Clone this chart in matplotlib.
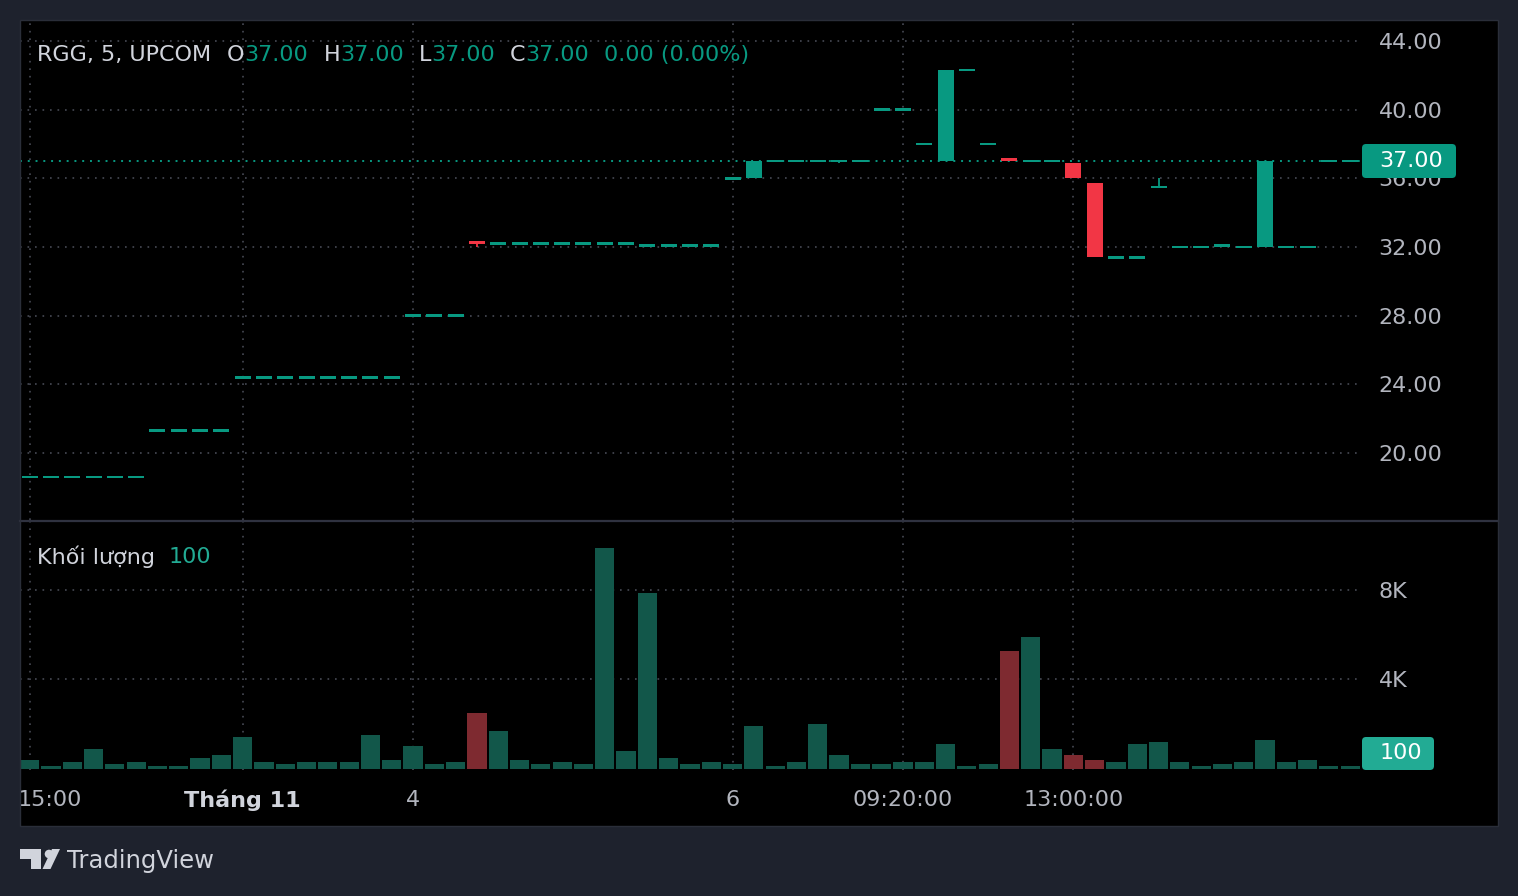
import matplotlib
matplotlib.use('Agg')
import matplotlib.pyplot as plt
from matplotlib.patches import Rectangle, FancyBboxPatch, Polygon, Circle
from matplotlib.transforms import IdentityTransform, blended_transform_factory
import numpy as np

# Dữ liệu nến 5 phút RGG
opens = [18.6, 18.6, 18.6, 18.6, 18.6, 18.6,
         21.3, 21.3, 21.3, 21.3,
         24.4, 24.4, 24.4, 24.4, 24.4, 24.4, 24.4, 24.4,
         28.0, 28.0, 28.0,
         32.3,
         32.2, 32.2, 32.2, 32.2, 32.2, 32.2, 32.2,
         32.1, 32.1, 32.1, 32.1,
         36.0, 36.0,
         37.0, 37.0, 37.0, 37.0, 37.0,
         40.0, 40.0, 38.0, 37.0, 42.3, 38.0, 37.2,
         37.0, 37.0, 36.9, 35.7, 31.4, 31.4, 35.5,
         32.0, 32.0, 32.1, 32.0, 32.0, 32.0, 32.0, 37.0, 37.0]
closes = [18.6, 18.6, 18.6, 18.6, 18.6, 18.6,
          21.3, 21.3, 21.3, 21.3,
          24.4, 24.4, 24.4, 24.4, 24.4, 24.4, 24.4, 24.4,
          28.0, 28.0, 28.0,
          32.2,
          32.2, 32.2, 32.2, 32.2, 32.2, 32.2, 32.2,
          32.1, 32.1, 32.1, 32.1,
          36.0, 37.0,
          37.0, 37.0, 37.0, 37.0, 37.0,
          40.0, 40.0, 38.0, 42.3, 42.3, 38.0, 37.0,
          37.0, 37.0, 36.0, 31.4, 31.4, 31.4, 35.5,
          32.0, 32.0, 32.1, 32.0, 37.0, 32.0, 32.0, 37.0, 37.0]
highs = [18.6, 18.6, 18.6, 18.6, 18.6, 18.6,
         21.3, 21.3, 21.3, 21.3,
         24.4, 24.4, 24.4, 24.4, 24.4, 24.4, 24.4, 24.4,
         28.0, 28.0, 28.0,
         32.3,
         32.2, 32.2, 32.2, 32.2, 32.2, 32.2, 32.2,
         32.1, 32.1, 32.1, 32.1,
         36.0, 37.0,
         37.0, 37.0, 37.0, 37.0, 37.0,
         40.0, 40.0, 38.0, 42.3, 42.3, 38.0, 37.2,
         37.0, 37.0, 36.9, 35.7, 31.4, 31.4, 36.0,
         32.0, 32.0, 32.1, 32.0, 37.0, 32.0, 32.0, 37.0, 37.0]
lows = [18.6, 18.6, 18.6, 18.6, 18.6, 18.6,
        21.3, 21.3, 21.3, 21.3,
        24.4, 24.4, 24.4, 24.4, 24.4, 24.4, 24.4, 24.4,
        28.0, 28.0, 28.0,
        32.0,
        32.2, 32.2, 32.2, 32.2, 32.2, 32.1, 32.1,
        32.1, 32.1, 32.1, 32.1,
        36.0, 36.0,
        37.0, 37.0, 37.0, 36.9, 37.0,
        40.0, 40.0, 38.0, 37.0, 42.3, 38.0, 37.0,
        37.0, 37.0, 36.0, 31.4, 31.4, 31.4, 35.5,
        32.0, 32.0, 32.0, 32.0, 32.0, 32.0, 32.0, 37.0, 37.0]
volumes = [400, 100, 300, 900, 200, 300, 100, 100, 500, 600,
           1400, 300, 200, 300, 300, 300, 1500, 400, 1000, 200,
           300, 2500, 1700, 400, 200, 300, 200, 9900, 800, 7900,
           500, 200, 300, 200, 1900, 100, 300, 2000, 600, 200,
           200, 300, 300, 1100, 100, 200, 5300, 5900, 900, 600,
           400, 300, 1100, 1200, 300, 100, 200, 300, 1300, 300,
           400, 100, 100]

price_ticks = [20, 24, 28, 32, 36, 40, 44]
vol_ticks = [4000, 8000]
vol_tick_labels = ['4K', '8K']
time_positions = [10, 18, 33, 41, 49]
time_labels = ['Tháng 11', '4', '6', '09:20:00', '13:00:00']
grid_positions = [0, 10, 18, 33, 41, 49]

last_price = 37.0
last_volume = 100

# Màu
BG = '#1e222d'
UP = '#089981'
DOWN = '#f23645'
VOL_UP = '#12574a'
VOL_DOWN = '#7e2a30'
GRID = '#474a55'
TXT = '#b2b5be'
TXT_LIGHT = '#d1d4dc'

W, H = 1518, 896


def fx(x):
    return x / W


def fy(y):
    return 1 - y / H


fig = plt.figure(figsize=(W / 100, H / 100), dpi=100, facecolor=BG)

# Khung nền đen của biểu đồ
fig.add_artist(Rectangle((fx(20), fy(826)), fx(1498) - fx(20), fy(20) - fy(826),
                         transform=fig.transFigure, facecolor='black', lw=0, zorder=-10))
fig.add_artist(Rectangle((fx(20), fy(826)), fx(1498) - fx(20), fy(20) - fy(826),
                         transform=fig.transFigure, facecolor='none',
                         edgecolor='#2a2e39', lw=1, zorder=4))
fig.add_artist(plt.Line2D([fx(20), fx(1498)], [fy(520.5), fy(520.5)],
                          transform=fig.transFigure, color='#2f3240', lw=1.6, zorder=1))

ax = fig.add_axes([fx(20), fy(520), fx(1360) - fx(20), fy(20) - fy(520)])
axv = fig.add_axes([fx(20), fy(770), fx(1360) - fx(20), fy(521) - fy(770)])

o = np.array(opens)
c = np.array(closes)
hi = np.array(highs)
lo = np.array(lows)
x = np.arange(len(c))
is_down = c < o

for a in (ax, axv):
    a.set_facecolor('black')
    a.set_xlim(-0.455, 62.46)
    for s in a.spines.values():
        s.set_visible(False)
    a.set_xticks(grid_positions)
    a.grid(True, color=GRID, ls=(0, (1, 3.5)), lw=1.2)
    a.set_axisbelow(True)
    a.yaxis.tick_right()
    a.tick_params(axis='y', length=0, pad=13.5, labelsize=16, labelcolor=TXT)
    a.tick_params(axis='x', length=0, labelbottom=False)

# Nến
ax.set_ylim(16.10, 45.22)
ax.set_yticks(price_ticks)
ax.set_yticklabels([f'{t:.2f}' for t in price_ticks])
colors = np.where(is_down, DOWN, UP)
ax.vlines(x, lo, hi, color=colors, lw=1.3, zorder=3)
min_h = 0.15
body_h = np.abs(c - o)
flat = body_h < min_h
bottoms = np.where(flat, (o + c) / 2 - min_h / 2, np.minimum(o, c))
heights = np.where(flat, min_h, body_h)
ax.bar(x, heights, width=0.75, bottom=bottoms, color=colors, lw=0, zorder=3)
ax.axhline(last_price, color=UP, ls=(0, (1, 3)), lw=1.4, zorder=2)

# Khối lượng
axv.set_ylim(-58, 11107)
axv.set_yticks(vol_ticks)
axv.set_yticklabels(vol_tick_labels)
axv.bar(x, volumes, width=0.9, color=np.where(is_down, VOL_DOWN, VOL_UP), lw=0, zorder=3)

# Nhãn thời gian
tr = blended_transform_factory(axv.transData, fig.transFigure)
fig.text(fx(50), fy(800), '15:00', ha='center', va='center', fontsize=16, color=TXT)
for pos, lab in zip(time_positions, time_labels):
    fig.text(pos, fy(800), lab, transform=tr, ha='center', va='center', fontsize=16,
             color=TXT_LIGHT if lab == 'Tháng 11' else TXT,
             fontweight='bold' if lab == 'Tháng 11' else 'normal')

# Dòng tiêu đề OHLC
renderer = fig.canvas.get_renderer()


def chain_text(parts, x0, y):
    cur = x0
    for s, col, gap in parts:
        t = fig.text(fx(cur), fy(y), s, color=col, fontsize=16, ha='left', va='center')
        bb = t.get_window_extent(renderer)
        cur = bb.x1 + gap


chain_text([('RGG, 5, UPCOM', TXT_LIGHT, 16),
            ('O', TXT_LIGHT, 0), ('37.00', UP, 15),
            ('H', TXT_LIGHT, 0), ('37.00', UP, 15),
            ('L', TXT_LIGHT, 0), ('37.00', UP, 15),
            ('C', TXT_LIGHT, 0), ('37.00', UP, 15),
            ('0.00 (0.00%)', UP, 0)], 37, 55)
chain_text([('Khối lượng', TXT_LIGHT, 14), (f'{last_volume}', '#22ab94', 0)], 37, 557)

# Nhãn giá cuối và khối lượng cuối
fig.add_artist(FancyBboxPatch((1362, H - 178), 94, 34, boxstyle='round,pad=0,rounding_size=4',
                              transform=IdentityTransform(), facecolor=UP, lw=0, zorder=5))
fig.text(fx(1411), fy(161), f'{last_price:.2f}', ha='center', va='center', fontsize=16,
         color='white', zorder=6)
fig.add_artist(FancyBboxPatch((1362, H - 770), 72, 33, boxstyle='round,pad=0,rounding_size=4',
                              transform=IdentityTransform(), facecolor='#22ab94', lw=0, zorder=5))
fig.text(fx(1401), fy(753), f'{last_volume}', ha='center', va='center', fontsize=16,
         color='white', zorder=6)

# Logo TradingView
logo = '#d1d4dc'
fig.add_artist(Polygon([(20, H - 849), (41, H - 849), (41, H - 869), (31, H - 869),
                        (31, H - 859), (20, H - 859)], closed=True,
                       transform=IdentityTransform(), facecolor=logo, lw=0))
fig.add_artist(Circle((49, H - 854), 4.3, transform=IdentityTransform(), facecolor=logo, lw=0))
fig.add_artist(Polygon([(52, H - 849), (60, H - 849), (50.5, H - 869), (42.5, H - 869)],
                       closed=True, transform=IdentityTransform(), facecolor=logo, lw=0))
fig.text(fx(67), fy(861), 'TradingView', ha='left', va='center', fontsize=17.5, color=logo)

fig.savefig('out.png', dpi=100, facecolor=BG)
